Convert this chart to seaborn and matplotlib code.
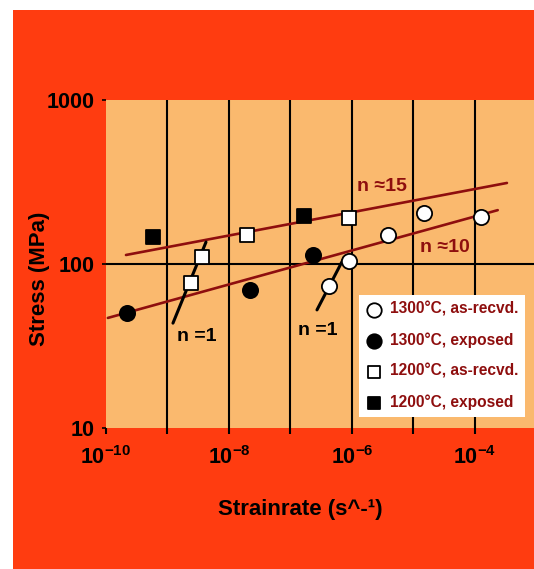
import numpy as np
import pandas as pd
import matplotlib
matplotlib.use("Agg")
import matplotlib.pyplot as plt
from matplotlib.patches import Rectangle
from matplotlib.ticker import FixedLocator, FixedFormatter, NullLocator
import seaborn as sns

# ---------------- data ----------------
rate_1300_asrec = [10**-6.374, 10**-6.049, 10**-5.415, 10**-4.829, 10**-3.902]
stress_1300_asrec = [73.5, 104, 150, 205, 194]

rate_1300_exp = [10**-9.659, 10**-7.659, 10**-6.634]
stress_1300_exp = [50.2, 69.3, 113.5]

rate_1200_asrec = [10**-8.618, 10**-8.439, 10**-7.707, 10**-6.049]
stress_1200_asrec = [76.6, 110, 150, 190.6]

rate_1200_exp = [10**-9.236, 10**-6.780]
stress_1200_exp = [146, 196]

# fitted lines (endpoints)
fit15_rate = [10**-9.675, 10**-3.48]
fit15_stress = [113.5, 312]
fit10_rate = [10**-9.97, 10**-3.63]
fit10_stress = [46.9, 213]
n1a_rate = [10**-8.911, 10**-8.374]
n1a_stress = [43.6, 136]
n1b_rate = [10**-6.569, 10**-6.13]
n1b_stress = [52.5, 109]

series_labels = ["1300°C, as-recvd.", "1300°C, exposed",
                 "1200°C, as-recvd.", "1200°C, exposed"]
xtick_labels = [r"$10^{-10}$", "", r"$10^{-8}$", "", r"$10^{-6}$", "", r"$10^{-4}$"]
ytick_labels = ["10", "100", "1000"]

# ---------------- style ----------------
sns.set_style("white")
plt.rcParams["font.family"] = ["Liberation Sans", "DejaVu Sans"]
plt.rcParams["font.weight"] = "bold"
plt.rcParams["text.color"] = "black"
plt.rcParams["axes.labelcolor"] = "black"
plt.rcParams["xtick.color"] = "black"
plt.rcParams["ytick.color"] = "black"
plt.rcParams["mathtext.fontset"] = "custom"
plt.rcParams["mathtext.rm"] = "Liberation Sans:bold"
plt.rcParams["mathtext.it"] = "Liberation Sans:bold"
plt.rcParams["mathtext.bf"] = "Liberation Sans:bold"

RED_BG = "#FF3C10"
PLOT_BG = "#FAB96E"
DARK_RED = "#8E0E0E"

W, H = 534, 569
fig = plt.figure(figsize=(W / 100, H / 100), dpi=100, facecolor="white")
bg = Rectangle((13 / W, 0), 1 - 13 / W, 1 - 10 / H,
               transform=fig.transFigure, facecolor=RED_BG,
               edgecolor="none", zorder=-10)
fig.patches.append(bg)

ax = fig.add_axes([106 / W, 1 - 428 / H, 1 - 106 / W, 328 / H])
ax.set_zorder(1)
ax.set_facecolor(PLOT_BG)
ax.set_xscale("log")
ax.set_yscale("log")
ax.set_xlim(1e-10, 10**-3.04)
ax.set_ylim(10, 1000)

# grid lines
for e in range(-9, -3):
    ax.axvline(10.0**e, color="black", lw=1.5, zorder=1)
ax.axhline(100, color="black", lw=1.5, zorder=1)

# fit lines
sns.lineplot(x=fit15_rate, y=fit15_stress, ax=ax, color=DARK_RED, lw=1.9, zorder=2)
sns.lineplot(x=fit10_rate, y=fit10_stress, ax=ax, color=DARK_RED, lw=1.9, zorder=2)
sns.lineplot(x=n1a_rate, y=n1a_stress, ax=ax, color="black", lw=2.2, zorder=2)
sns.lineplot(x=n1b_rate, y=n1b_stress, ax=ax, color="black", lw=2.2, zorder=2)

# data points
kw = dict(ax=ax, edgecolor="black", linewidth=1.3, zorder=3)
sns.scatterplot(x=rate_1300_asrec, y=stress_1300_asrec, marker="o", s=120,
                color="white", label=series_labels[0], **kw)
sns.scatterplot(x=rate_1300_exp, y=stress_1300_exp, marker="o", s=120,
                color="black", label=series_labels[1], **kw)
sns.scatterplot(x=rate_1200_asrec, y=stress_1200_asrec, marker="s", s=90,
                color="white", label=series_labels[2], **kw)
sns.scatterplot(x=rate_1200_exp, y=stress_1200_exp, marker="s", s=90,
                color="black", label=series_labels[3], **kw)

# annotations
tr = ax.transAxes
ax.text(0.645, 0.735, "n ≈15", transform=tr, color=DARK_RED, fontsize=14,
        fontweight="bold", ha="center", va="center")
ax.text(0.792, 0.549, "n ≈10", transform=tr, color=DARK_RED, fontsize=14,
        fontweight="bold", ha="center", va="center")
ax.text(0.2126, 0.280, "n =1", transform=tr, color="black", fontsize=14,
        fontweight="bold", ha="center", va="center")
ax.text(0.495, 0.296, "n =1", transform=tr, color="black", fontsize=14,
        fontweight="bold", ha="center", va="center")

# ticks
ax.xaxis.set_major_locator(FixedLocator([10.0**e for e in range(-10, -3)]))
ax.xaxis.set_major_formatter(FixedFormatter(xtick_labels))
ax.xaxis.set_minor_locator(NullLocator())
ax.yaxis.set_major_locator(FixedLocator([10, 100, 1000]))
ax.yaxis.set_major_formatter(FixedFormatter(ytick_labels))
ax.yaxis.set_minor_locator(NullLocator())
ax.tick_params(axis="x", direction="out", length=4, width=1.5, color="black",
               labelcolor="black", labelsize=15.5, pad=9, bottom=True)
ax.tick_params(axis="y", direction="out", length=3, width=1.2, color="black",
               labelcolor="black", labelsize=15.5, pad=5, left=True)
for lab in ax.get_xticklabels() + ax.get_yticklabels():
    lab.set_fontweight("bold")

for sp in ax.spines.values():
    sp.set_visible(False)

ax.set_xlabel("Strainrate (s^-¹)", fontsize=16, fontweight="bold", color="black")
ax.set_ylabel("Stress (MPa)", fontsize=16, fontweight="bold", color="black")
ax.xaxis.label.set_va("center")
ax.yaxis.label.set_va("center")
ax.xaxis.set_label_coords(0.453, -0.25)
ax.yaxis.set_label_coords(-0.156, 0.454)

leg = ax.legend(loc="lower right", bbox_to_anchor=(0.979, 0.034),
                borderaxespad=0, frameon=True, fancybox=False,
                facecolor="white", edgecolor="none", framealpha=1,
                labelcolor=DARK_RED, prop={"weight": "bold", "size": 11.2},
                handlelength=1.0, handletextpad=0.5, borderpad=0.45,
                labelspacing=1.0, markerscale=0.95)
leg.set_zorder(5)

fig.savefig("out.png", dpi=100, facecolor=fig.get_facecolor())
